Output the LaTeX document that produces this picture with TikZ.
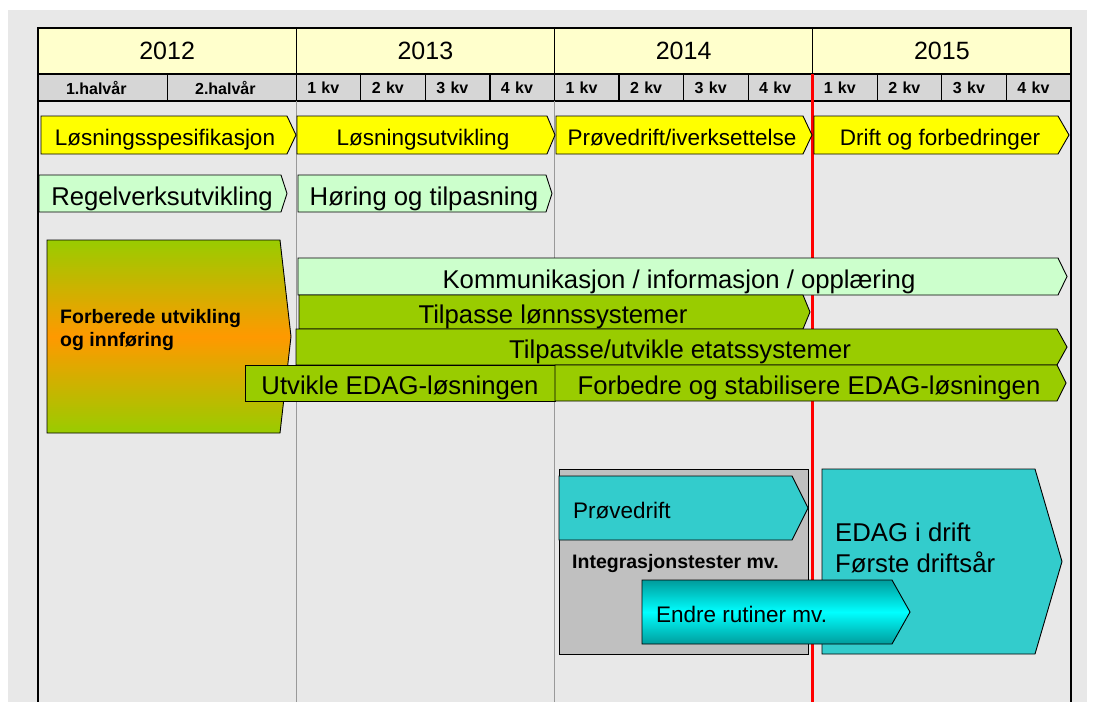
\documentclass[tikz,border=0pt]{standalone}
\usepackage{fontspec}
\setmainfont{Liberation Sans}
\usepackage{tikz}
\usetikzlibrary{positioning}

\definecolor{bggray}{HTML}{E8E8E8}
\definecolor{yearfill}{HTML}{FFFFCC}
\definecolor{subfill}{HTML}{D6D6D6}
\definecolor{gridgray}{HTML}{999999}
\definecolor{baryellow}{HTML}{FFFF00}
\definecolor{barmint}{HTML}{CCFFCC}
\definecolor{bargreen}{HTML}{99CC00}
\definecolor{barorange}{HTML}{FF9900}
\definecolor{barteal}{HTML}{33CCCC}
\definecolor{tealdark}{HTML}{009C9C}
\definecolor{boxgray}{HTML}{C0C0C0}

\begin{document}
\begin{tikzpicture}[x=1pt,y=-1pt]
    \tikzset{
      yearcell/.style={draw,line width=1.2pt,fill=yearfill,anchor=north west,inner sep=0pt,outer sep=0pt,minimum width=258.25pt,minimum height=46pt,font=\fontsize{25}{30}\selectfont},
      halfcell/.style={draw,line width=1.2pt,fill=subfill,anchor=north west,inner ysep=0pt,outer sep=0pt,minimum height=27pt,inner xsep=28pt,text width=73.125pt,align=left,font=\bfseries\fontsize{16}{18}\selectfont},
      quartercell/.style={halfcell,inner xsep=11pt,text width=42.5625pt},
      gridline/.style={line width=1pt,draw=gridgray},
      edgeline/.style={line width=1.8pt,draw=black},
      barline/.style={draw=black,line width=0.9pt,line join=miter},
      yellowbar/.style={barline,fill=baryellow},
      mintbar/.style={barline,fill=barmint},
      greenbar/.style={barline,fill=bargreen},
      tealbar/.style={barline,fill=barteal},
      bigtext/.style={inner sep=0pt,font=\fontsize{25.7}{31}\selectfont,text height=23pt,text depth=0pt},
      midtext/.style={inner sep=0pt,font=\fontsize{22.5}{27}\selectfont,text height=20.5pt,text depth=0pt},
      boldlabel/.style={inner sep=0pt,anchor=west,align=left,font=\bfseries\fontsize{19.5}{23}\selectfont},
      edagtext/.style={inner sep=0pt,anchor=west,align=left,font=\fontsize{25.7}{31}\selectfont}
    }
    \useasboundingbox (0,0) rectangle (1098,702);
    \fill[bggray] (8,10) rectangle (1087,702);

    % header
    \foreach \yr [count=\i from 0] in {2012,2013,2014,2015}
      \node[yearcell] (y\yr) at ({38+\i*258.25},28) {\yr};
    \node[halfcell] (h1) at (38,74) {1.halvår};
    \node[halfcell] (h2) at (167.125,74) {2.halvår};
    \foreach \yr [count=\i from 1] in {2013,2014,2015}
      \foreach \q in {1,...,4}
        \node[quartercell] (q\yr-\q) at ({38+\i*258.25+(\q-1)*64.5625},74) {\q\ kv};

    \coordinate (bottom) at (0,702);
    \draw[edgeline] (h1.south west) -- (h1.south west |- bottom);
    \draw[gridline] (q2013-1.south west) -- (q2013-1.south west |- bottom);
    \draw[gridline] (q2014-1.south west) -- (q2014-1.south west |- bottom);
    \draw[edgeline] (q2015-4.south east) -- (q2015-4.south east |- bottom);
    \draw[line width=3pt,draw=red] (y2015.south west) -- (y2015.south west |- bottom);

    % phases
    \path[yellowbar] (41,116) -- (287,116) -- (296,135) -- (287,154) -- (41,154) -- cycle;
    \node[midtext] (spec) at (165,135) {Løsningsspesifikasjon};
    \path[yellowbar] (297,116) -- (547,116) -- (555,135) -- (547,154) -- (297,154) -- cycle;
    \node[midtext] (losutv) at (423,135) {Løsningsutvikling};
    \path[yellowbar] (556,116) -- (803,116) -- (812,135) -- (803,154) -- (556,154) -- cycle;
    \node[midtext] (iverk) at (682,135) {Prøvedrift/iverksettelse};
    \path[yellowbar] (814,116) -- (1058,116) -- (1069,135) -- (1058,154) -- (814,154) -- cycle;
    \node[midtext] (drift) at (940,135) {Drift og forbedringer};

    \path[mintbar] (39,175) -- (281,175) -- (287,193.5) -- (281,212) -- (39,212) -- cycle;
    \node[bigtext] (regel) at (162,193.5) {Regelverksutvikling};
    \path[mintbar] (298,175) -- (546,175) -- (552,193.5) -- (546,212) -- (298,212) -- cycle;
    \node[bigtext] (horing) at (424,193.5) {Høring og tilpasning};

    \shadedraw[barline,top color=bargreen,bottom color=bargreen,middle color=barorange] (47,240) -- (280,240) -- (291,336.5) -- (280,433) -- (47,433) -- cycle;
    \node[boldlabel] (prep) at (60,330) {Forberede utvikling\\og innføring};

    \path[mintbar] (298,258) -- (1058,258) -- (1067,276.5) -- (1058,295) -- (298,295) -- cycle;
    \node[bigtext] (komm) at (679,276.5) {Kommunikasjon / informasjon / opplæring};
    \path[greenbar] (299,295) -- (803,295) -- (810,312) -- (803,329) -- (299,329) -- cycle;
    \node[bigtext] (lonn) at (553,312) {Tilpasse lønnssystemer};
    \path[greenbar] (296,329) -- (1057,329) -- (1067,347) -- (1057,365) -- (296,365) -- cycle;
    \node[bigtext] (etat) at (680,347) {Tilpasse/utvikle etatssystemer};
    \path[greenbar] (245,365) rectangle (555,401);
    \node[bigtext] (utvikle) at (400,383) {Utvikle EDAG-løsningen};
    \path[greenbar] (555,365) -- (1057,365) -- (1066,383) -- (1057,401) -- (555,401) -- cycle;
    \node[bigtext] (forbedre) at (809,383) {Forbedre og stabilisere EDAG-løsningen};

    % test and operation
    \path[barline,fill=boxgray] (559,469) rectangle (808,654);
    \path[tealbar] (559,476) -- (792,476) -- (808,508) -- (792,540) -- (559,540) -- cycle;
    \node[midtext,anchor=west] (prove) at (573,508) {Prøvedrift};
    \node[boldlabel] (integ) at (572,563) {Integrasjonstester mv.};
    \path[tealbar] (822,469) -- (1035,469) -- (1062,561.5) -- (1035,654) -- (822,654) -- cycle;
    \node[edagtext] (edag) at (835,548) {EDAG i drift\\Første driftsår};
    \shadedraw[barline,top color=tealdark,bottom color=tealdark,middle color=cyan] (642,580) -- (892,580) -- (910,612) -- (892,644) -- (642,644) -- cycle;
    \node[midtext,anchor=west] (endre) at (656,612) {Endre rutiner mv.};

  \end{tikzpicture}
\end{document}
